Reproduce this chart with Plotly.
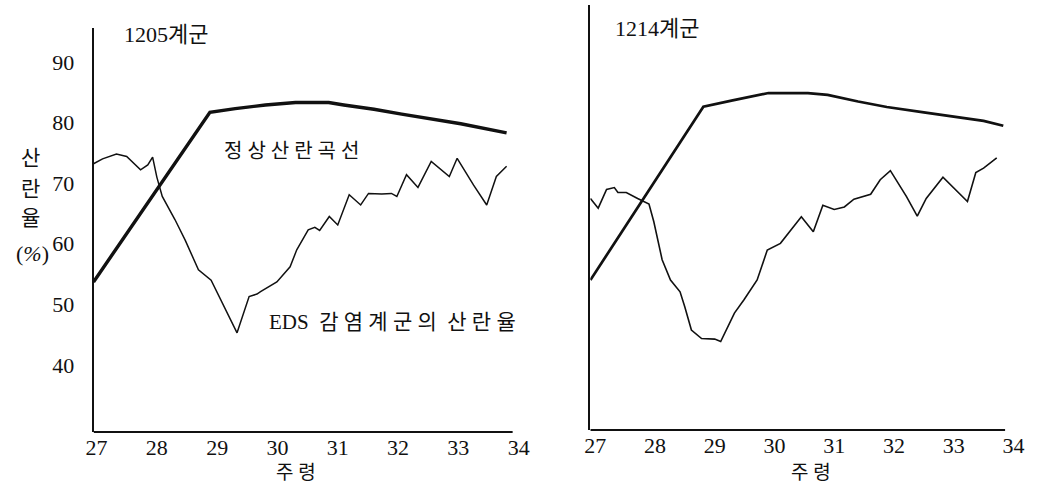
import plotly.graph_objects as go
from plotly.subplots import make_subplots

# Week of age (주령) and laying rate (%) for flock 1205
weeks_1205_normal = [26.95, 28.88, 29.3, 29.8, 30.3, 30.85, 31.1, 31.6, 32.06, 32.5, 33.04, 33.8]
rate_1205_normal = [53.7, 81.7, 82.3, 82.9, 83.3, 83.3, 82.9, 82.2, 81.4, 80.7, 79.8, 78.3]

weeks_1205_eds = [26.95, 27.1, 27.33, 27.5, 27.73, 27.85, 27.93, 28.0, 28.09, 28.3, 28.47,
                  28.69, 28.9, 29.12, 29.33, 29.53, 29.66, 29.72, 29.99, 30.21, 30.32, 30.51,
                  30.62, 30.7, 30.86, 31.0, 31.19, 31.38, 31.51, 31.73, 31.89, 31.98, 32.14,
                  32.33, 32.55, 32.85, 32.98, 33.25, 33.47, 33.63, 33.8]
rate_1205_eds = [73.2, 74.0, 74.8, 74.4, 72.2, 73.0, 74.3, 71.0, 67.8, 64.0, 60.6,
                 55.7, 54.0, 49.6, 45.3, 51.3, 51.7, 52.1, 53.7, 56.2, 59.0, 62.3,
                 62.7, 62.2, 64.5, 63.1, 68.1, 66.4, 68.3, 68.2, 68.3, 67.8, 71.4,
                 69.3, 73.6, 71.1, 74.1, 69.7, 66.4, 71.1, 72.8]

# Flock 1214
weeks_1214_normal = [26.92, 28.81, 29.3, 29.9, 30.56, 30.89, 31.4, 31.88, 32.5, 32.98, 33.5, 33.83]
rate_1214_normal = [53.75, 82.35, 83.4, 84.6, 84.6, 84.3, 83.2, 82.3, 81.4, 80.7, 80.0, 79.2]

weeks_1214_eds = [26.92, 27.05, 27.19, 27.32, 27.38, 27.52, 27.71, 27.9, 27.98, 28.12, 28.26,
                  28.42, 28.5, 28.61, 28.78, 29.0, 29.1, 29.33, 29.49, 29.71, 29.88, 30.1,
                  30.45, 30.65, 30.81, 31.0, 31.17, 31.33, 31.61, 31.77, 31.94, 32.21, 32.39,
                  32.54, 32.82, 33.23, 33.37, 33.5, 33.72]
rate_1214_eds = [67.2, 65.6, 68.7, 69.0, 68.2, 68.2, 67.2, 66.3, 63.4, 57.1, 53.75,
                 51.8, 49.3, 45.5, 44.1, 44.0, 43.6, 48.3, 50.5, 53.75, 58.7, 59.8,
                 64.2, 61.7, 66.1, 65.4, 65.8, 67.1, 67.9, 70.3, 71.8, 67.5, 64.3,
                 67.2, 70.7, 66.7, 71.5, 72.2, 73.9]

week_ticks = [27, 28, 29, 30, 31, 32, 33, 34]
rate_ticks = [40, 50, 60, 70, 80, 90]

W, H = 1039, 485
FONT = "Liberation Serif, Noto Sans CJK KR"
INK = "#111111"

fig = make_subplots(rows=1, cols=2)

fig.add_trace(go.Scatter(x=weeks_1205_normal, y=rate_1205_normal, mode="lines",
                         line=dict(color=INK, width=3.4)), row=1, col=1)
fig.add_trace(go.Scatter(x=weeks_1205_eds, y=rate_1205_eds, mode="lines",
                         line=dict(color=INK, width=1.5)), row=1, col=1)
fig.add_trace(go.Scatter(x=weeks_1214_normal, y=rate_1214_normal, mode="lines",
                         line=dict(color=INK, width=2.7)), row=1, col=2)
fig.add_trace(go.Scatter(x=weeks_1214_eds, y=rate_1214_eds, mode="lines",
                         line=dict(color=INK, width=1.6)), row=1, col=2)

def px_x(p):
    return p / W

def px_y(p):
    return 1 - p / H

common_x = dict(tickvals=week_ticks, ticktext=[str(t) for t in week_ticks],
                showgrid=False, zeroline=False, showline=False, ticks="",
                tickfont=dict(family=FONT, size=22, color=INK))

fig.update_layout(
    width=W, height=H,
    margin=dict(l=0, r=0, t=0, b=0),
    paper_bgcolor="white", plot_bgcolor="white",
    showlegend=False,
    xaxis=dict(domain=[px_x(87), px_x(521)], range=[26.951, 34.03], **common_x),
    xaxis2=dict(domain=[px_x(592), px_x(1024)], range=[26.918, 34.03], **common_x),
    yaxis=dict(domain=[px_y(432), px_y(28)], range=[28.94, 95.6],
               tickvals=rate_ticks, showgrid=False, zeroline=False,
               showline=True, linecolor=INK, linewidth=2,
               ticks="outside", ticklen=13, tickcolor="rgba(0,0,0,0)",
               tickfont=dict(family=FONT, size=22, color=INK)),
    yaxis2=dict(domain=[px_y(430), px_y(5)], range=[29, 99.13],
                showticklabels=False, showgrid=False, zeroline=False,
                showline=True, linecolor=INK, linewidth=2, ticks=""),
)

# Bottom axis lines, ending just short of the last tick label
fig.add_shape(type="line", xref="x", yref="y domain", x0=26.951, x1=33.9, y0=0, y1=0,
              line=dict(color=INK, width=2))
fig.add_shape(type="line", xref="x2", yref="y2 domain", x0=26.918, x1=33.86, y0=0, y1=0,
              line=dict(color=INK, width=2))

ann = []
# Panel titles
ann.append(dict(text="1205계군", x=28.16, y=94.6, xref="x", yref="y",
                font=dict(family=FONT, size=22, color=INK)))
ann.append(dict(text="1214계군", x=28.03, y=95.2, xref="x2", yref="y2",
                font=dict(family=FONT, size=22, color=INK)))
# Curve labels
ann.append(dict(text="정 상 산 란 곡 선", x=30.23, y=75.3, xref="x", yref="y",
                font=dict(family=FONT, size=20, color=INK)))
ann.append(dict(text="EDS  감 염 계 군 의  산 란 율", x=31.91, y=47.1, xref="x", yref="y",
                font=dict(family=FONT, size=21, color=INK)))
# Vertical y-axis title
for ch, yp in zip(["산", "란", "율"], [158, 189, 218]):
    ann.append(dict(text=ch, x=px_x(23), y=px_y(yp), xref="paper", yref="paper",
                    font=dict(family=FONT, size=21, color=INK)))
ann.append(dict(text="(<i>%</i>)", x=px_x(25), y=px_y(253), xref="paper", yref="paper",
                font=dict(family=FONT, size=22, color=INK)))
# X-axis titles
ann.append(dict(text="주 령", x=px_x(293), y=px_y(472), xref="paper", yref="paper",
                font=dict(family=FONT, size=19, color=INK)))
ann.append(dict(text="주 령", x=px_x(816), y=px_y(472), xref="paper", yref="paper",
                font=dict(family=FONT, size=19, color=INK)))

for a in ann:
    a.update(showarrow=False, xanchor="center", yanchor="middle")
fig.update_layout(annotations=ann)

fig.write_html("out.html")
